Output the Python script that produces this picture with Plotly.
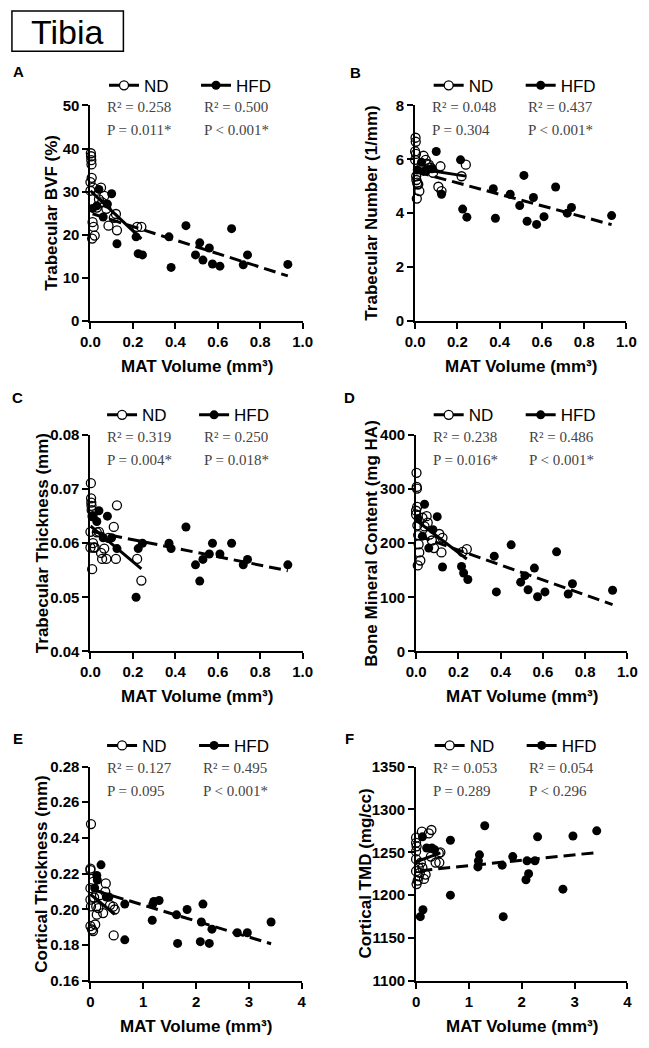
import numpy as np
import plotly.graph_objects as go

W, H = 649, 1048

# ---------------- data ----------------
# MAT volume (mm^3), trabecular panels A-D
ND_X_AD = [0.000, 0.000, 0.002, 0.003, 0.004, 0.005, 0.006, 0.008, 0.010, 0.012,
           0.015, 0.020, 0.030, 0.040, 0.050, 0.055, 0.065, 0.075, 0.085, 0.110,
           0.120, 0.125, 0.220, 0.240]
HFD_X_AD = [0.01, 0.03, 0.04, 0.06, 0.08, 0.10, 0.125, 0.215, 0.225, 0.245, 0.37,
            0.38, 0.45, 0.495, 0.515, 0.53, 0.56, 0.575, 0.61, 0.665, 0.72, 0.74, 0.93]

BVF_ND = [30.2, 32.2, 38.9, 38.2, 37.3, 36.3, 33.2, 19.1, 22.9, 30.9, 21.8, 19.8,
          26.3, 28.2, 30.9, 27.5, 29.0, 26.0, 22.1, 23.9, 24.8, 21.0, 21.8, 21.8]
BVF_HFD = [26.1, 26.7, 30.5, 24.1, 27.1, 29.5, 17.9, 19.5, 15.6, 15.3, 19.5, 12.4,
           22.1, 15.3, 18.1, 14.1, 16.9, 13.2, 12.7, 21.4, 13.0, 15.3, 13.1]

TBN_ND = [6.29, 5.98, 6.80, 6.65, 6.20, 5.37, 5.23, 4.54, 5.13, 5.07, 5.07, 4.82,
          5.70, 6.13, 5.98, 5.84, 5.80, 5.68, 5.50, 4.98, 5.74, 4.82, 5.37, 5.80]
TBN_HFD = [5.60, 5.89, 5.55, 5.62, 5.65, 6.29, 4.70, 5.98, 4.15, 3.85, 4.91, 3.81,
           4.70, 4.28, 5.40, 3.70, 4.58, 3.58, 3.87, 4.97, 4.00, 4.21, 3.91]

TBTH_ND = [0.0592, 0.0621, 0.0711, 0.0683, 0.0675, 0.0669, 0.0661, 0.0552, 0.0650,
           0.0600, 0.0592, 0.0592, 0.0620, 0.0621, 0.0582, 0.0571, 0.0590, 0.0571,
           0.0610, 0.0630, 0.0571, 0.0670, 0.0571, 0.0531]
TBTH_HFD = [0.065, 0.064, 0.066, 0.061, 0.065, 0.061, 0.059, 0.050, 0.059, 0.060,
            0.060, 0.059, 0.063, 0.056, 0.053, 0.057, 0.058, 0.060, 0.058, 0.060,
            0.056, 0.057, 0.056]

BMC_ND = [253, 260, 330, 304, 301, 267, 233, 159, 215, 198, 183, 168, 247, 231,
          250, 238, 216, 205, 191, 217, 183, 210, 184, 189]
BMC_HFD = [245, 213, 272, 191, 225, 249, 156, 157, 145, 133, 176, 110, 197, 128,
           140, 114, 154, 101, 110, 184, 106, 125, 113]

# MAT volume (mm^3), cortical panels E-F
ND_X_EF = [0.00, 0.00, 0.00, 0.00, 0.00, 0.01, 0.01, 0.03, 0.05, 0.05, 0.07, 0.09,
           0.11, 0.12, 0.15, 0.18, 0.24, 0.28, 0.29, 0.37, 0.43, 0.44, 0.46]
HFD_X_EF = [0.08, 0.12, 0.13, 0.20, 0.30, 0.35, 0.65, 0.65, 1.17, 1.18, 1.20, 1.30,
            1.63, 1.65, 1.83, 2.08, 2.10, 2.13, 2.25, 2.30, 2.78, 2.97, 3.42]

CTTH_ND = [0.2229, 0.2220, 0.2119, 0.2055, 0.1907, 0.2478, 0.2017, 0.1888, 0.1879,
           0.2155, 0.2067, 0.1916, 0.2017, 0.1971, 0.2008, 0.2080, 0.1980, 0.2100,
           0.2146, 0.2025, 0.2016, 0.1855, 0.2000]
CTTH_HFD = [0.212, 0.219, 0.2165, 0.225, 0.207, 0.207, 0.203, 0.183, 0.194, 0.203,
            0.2045, 0.205, 0.197, 0.181, 0.200, 0.182, 0.193, 0.203, 0.181, 0.189,
            0.187, 0.187, 0.193]

TMD_ND = [1267, 1261, 1251, 1242, 1228, 1257, 1213, 1217, 1232, 1222, 1226, 1238,
          1274, 1232, 1219, 1224, 1272, 1245, 1276, 1238, 1249, 1238, 1250]
TMD_HFD = [1175, 1268, 1183, 1255, 1255, 1253, 1264, 1200, 1233, 1240, 1247, 1281,
           1235, 1175, 1245, 1218, 1240, 1225, 1240, 1268, 1207, 1269, 1275]

PANEL_LETTERS = ["A", "B", "C", "D", "E", "F"]
Y_TITLES = ["Trabecular BVF (%)", "Trabecular Number (1/mm)",
            "Trabecular Thickness (mm)", "Bone Mineral Content (mg HA)",
            "Cortical Thickness (mm)", "Cortical TMD (mg/cc)"]
X_TITLE = "MAT Volume (mm\u00b3)"
R2_ND = ["0.258", "0.048", "0.319", "0.238", "0.127", "0.053"]
R2_HFD = ["0.500", "0.437", "0.250", "0.486", "0.495", "0.054"]
P_ND = ["P = 0.011*", "P = 0.304", "P = 0.004*", "P = 0.016*", "P = 0.095", "P = 0.289"]
P_HFD = ["P < 0.001*", "P < 0.001*", "P = 0.018*", "P < 0.001*", "P < 0.001*", "P < 0.296"]
Y_TICKS = [[0, 10, 20, 30, 40, 50], [0, 2, 4, 6, 8],
           [0.04, 0.05, 0.06, 0.07, 0.08], [0, 100, 200, 300, 400],
           [0.16, 0.18, 0.20, 0.22, 0.24, 0.26, 0.28],
           [1100, 1150, 1200, 1250, 1300, 1350]]
Y_FMT = ["d", "d", ".2f", "d", ".2f", "d"]
X_TICKS_AD = [0.0, 0.2, 0.4, 0.6, 0.8, 1.0]
X_TICKS_EF = [0, 1, 2, 3, 4]

panels = [
    (ND_X_AD, BVF_ND, HFD_X_AD, BVF_HFD),
    (ND_X_AD, TBN_ND, HFD_X_AD, TBN_HFD),
    (ND_X_AD, TBTH_ND, HFD_X_AD, TBTH_HFD),
    (ND_X_AD, BMC_ND, HFD_X_AD, BMC_HFD),
    (ND_X_EF, CTTH_ND, HFD_X_EF, CTTH_HFD),
    (ND_X_EF, TMD_ND, HFD_X_EF, TMD_HFD),
]

# ---------------- layout geometry (pixels) ----------------
BOX = [(83, 302, 98, 317), (418, 636, 98, 317),
       (83, 302, 433, 653), (419, 637, 433, 653),
       (83, 301, 770, 988), (419, 637, 770, 988)]
YTITLE_X = [42, 373, 33, 373, 33, 367]
LETTER_POS = [(9, 64), (357, 65), (8, 395), (350, 395), (8, 742), (350, 742)]
LEGEND_Y = [78, 78, 413, 413, 749, 749]
LEGEND_X = [97, 432, 95, 432, 95, 433]

def px(x):
    return x / W

def py(y):
    return 1 - y / H

fig = go.Figure()
layout = {}
annotations = []
shapes = []

TICKFONT = dict(family="Liberation Sans", size=15, color="black", weight="bold")
TITLEFONT = dict(family="Liberation Sans", size=17, color="black", weight="bold")
STATFONT = dict(family="Liberation Serif", size=15, color="#444444")

for i, (ndx, ndy, hx, hy) in enumerate(panels):
    n = "" if i == 0 else str(i + 1)
    xa, ya = "x" + n, "y" + n
    leg = "legend" + n
    x0, x1, y0, y1 = BOX[i]
    xt = X_TICKS_AD if i < 4 else X_TICKS_EF
    layout["xaxis" + n] = dict(
        domain=[px(x0), px(x1)], anchor=ya, range=[xt[0], xt[-1]],
        tickvals=xt, tickformat=".1f" if i < 4 else "d",
        showline=True, linewidth=2, linecolor="black", ticks="outside",
        ticklen=6, tickwidth=2, tickcolor="black", showgrid=False,
        zeroline=False, tickfont=TICKFONT, fixedrange=True)
    yt = Y_TICKS[i]
    layout["yaxis" + n] = dict(
        domain=[py(y1), py(y0)], anchor=xa, range=[yt[0], yt[-1]],
        tickvals=yt, tickformat=Y_FMT[i],
        showline=True, linewidth=2, linecolor="black", ticks="outside",
        ticklen=6, tickwidth=2, tickcolor="black", showgrid=False,
        zeroline=False, tickfont=TICKFONT, fixedrange=True)

    fig.add_trace(go.Scatter(
        x=ndx, y=ndy, xaxis=xa, yaxis=ya, mode="markers", showlegend=False,
        cliponaxis=False,
        marker=dict(symbol="circle-open", size=9, color="black",
                    line=dict(width=1.3, color="black"))))
    fig.add_trace(go.Scatter(
        x=hx, y=hy, xaxis=xa, yaxis=ya, mode="markers", showlegend=False,
        cliponaxis=False,
        marker=dict(symbol="circle", size=9, color="black")))

    # linear regression lines computed from the points
    for xs, ys, dash in ((ndx, ndy, "solid"), (hx, hy, "12px,6px")):
        k, b = np.polyfit(xs, ys, 1)
        xf = np.array([min(xs), max(xs)])
        fig.add_trace(go.Scatter(
            x=xf, y=k * xf + b, xaxis=xa, yaxis=ya, mode="lines",
            showlegend=False, line=dict(color="black", width=3, dash=dash)))

    # legend entries
    fig.add_trace(go.Scatter(
        x=[None], y=[None], xaxis=xa, yaxis=ya, name="ND", legend=leg,
        mode="lines+markers", line=dict(color="black", width=3),
        marker=dict(symbol="circle", size=9, color="white",
                    line=dict(width=1.3, color="black"))))
    fig.add_trace(go.Scatter(
        x=[None], y=[None], xaxis=xa, yaxis=ya, name="HFD", legend=leg,
        mode="lines+markers", line=dict(color="black", width=3),
        marker=dict(symbol="circle", size=9, color="black")))
    layout[leg] = dict(
        orientation="h", x=px(LEGEND_X[i]), y=py(LEGEND_Y[i]),
        xanchor="left", yanchor="middle", bgcolor="rgba(0,0,0,0)",
        font=dict(family="Liberation Sans", size=17, color="black"),
        entrywidth=47, entrywidthmode="pixels", tracegroupgap=0,
        itemclick=False, itemdoubleclick=False)

    # statistics
    w = x1 - x0
    for j, (txt1, txt2) in enumerate(((
            "R\u00b2 = " + R2_ND[i], P_ND[i]),
            ("R\u00b2 = " + R2_HFD[i], P_HFD[i]))):
        xx = x0 + (0.07 if j == 0 else 0.525) * w
        annotations.append(dict(x=px(xx), y=py(y0 + 2), xref="paper", yref="paper",
                                text=txt1, showarrow=False, xanchor="left",
                                yanchor="middle", font=STATFONT))
        annotations.append(dict(x=px(xx), y=py(y0 + 25), xref="paper", yref="paper",
                                text=txt2, showarrow=False, xanchor="left",
                                yanchor="middle", font=STATFONT))

    # axis titles
    annotations.append(dict(x=px(YTITLE_X[i]), y=py((y0 + y1) / 2), xref="paper",
                            yref="paper", text=Y_TITLES[i], textangle=-90,
                            showarrow=False, xanchor="center", yanchor="middle",
                            font=TITLEFONT))
    annotations.append(dict(x=px((x0 + x1) / 2), y=py(y1 + 46), xref="paper",
                            yref="paper", text=X_TITLE, showarrow=False,
                            xanchor="center", yanchor="middle", font=TITLEFONT))
    # panel letter
    lx, ly = LETTER_POS[i]
    annotations.append(dict(x=px(lx), y=py(ly), xref="paper", yref="paper",
                            text=PANEL_LETTERS[i], showarrow=False,
                            xanchor="center", yanchor="middle",
                            font=dict(family="Liberation Sans", size=15,
                                      color="black", weight="bold")))

# title box
shapes.append(dict(type="rect", xref="paper", yref="paper",
                   x0=px(2), x1=px(117), y0=py(43), y1=py(2),
                   line=dict(color="black", width=1.5)))
annotations.append(dict(x=px(59), y=py(23), xref="paper", yref="paper",
                        text="Tibia", showarrow=False, xanchor="center",
                        yanchor="middle",
                        font=dict(family="Liberation Sans", size=34, color="black")))

fig.update_layout(
    width=W, height=H, margin=dict(l=0, r=0, t=0, b=0),
    paper_bgcolor="white", plot_bgcolor="white",
    annotations=annotations, shapes=shapes, **layout)

POST = """
var s = document.createElement('style');
s.textContent = 'html,body{margin:0;padding:0;overflow:hidden;}';
document.head.appendChild(s);
"""

fig.write_html("out.html", config={"displayModeBar": False}, post_script=POST)
